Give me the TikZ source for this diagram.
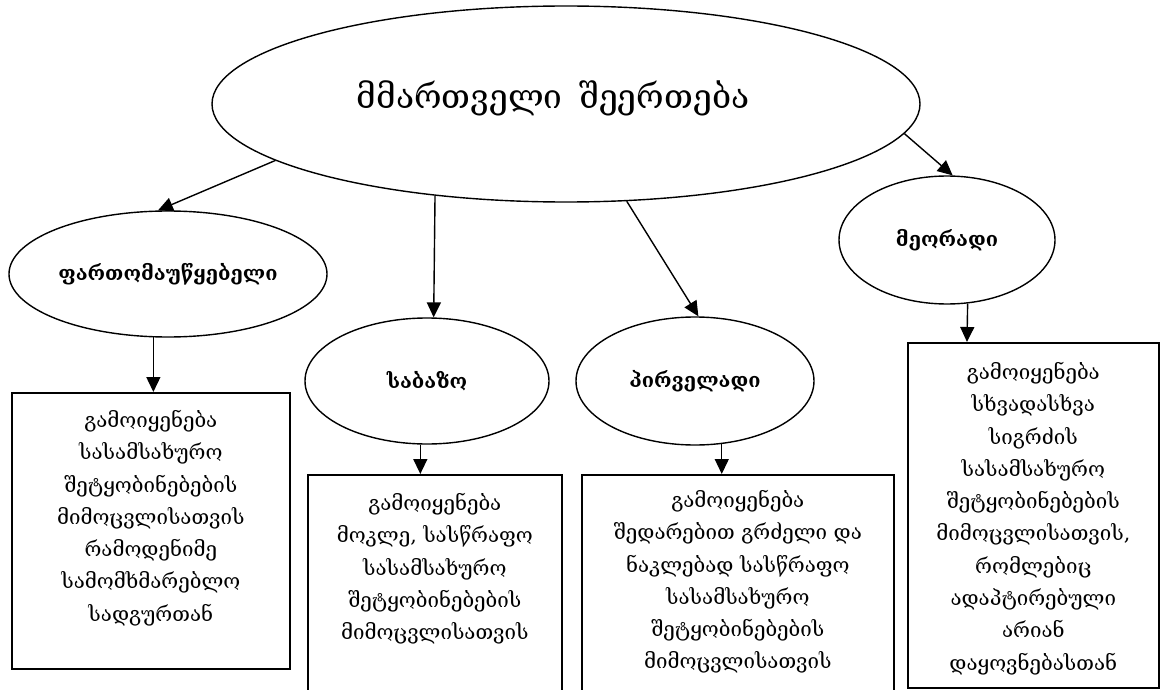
\documentclass[tikz,border=0pt]{standalone}
\usepackage{fontspec}
\setmainfont{DejaVu Serif}
\usetikzlibrary{shapes.geometric,arrows.meta}
\begin{document}
\begin{tikzpicture}[x=1pt,y=-1pt,
  oval/.style={draw,ellipse,line width=1.4pt,inner sep=0pt},
  panel/.style={draw,rectangle,line width=1.6pt,inner sep=0pt,anchor=north west},
  body/.style={align=center,font=\fontsize{20.5}{32.3}\selectfont,inner sep=0pt,anchor=north},
  tag/.style={font=\fontsize{20}{24}\selectfont\bfseries},
  arr/.style={line width=1.4pt,-{Triangle[length=15pt,width=14pt]}}]
\useasboundingbox (0,0) rectangle (1160,690);

% central ellipse and its title
\node[oval,minimum width=708pt,minimum height=196pt] (main) at (566,104) {};
\node[font=\fontsize{33.5}{40}\selectfont] (title) at (553,98) {მმართველი\hspace{0.5em}შეერთება};

% the four kinds of connection
\node[oval,tag,minimum width=318pt,minimum height=126pt] (wide) at (168,274) {ფართომაუწყებელი};
\node[oval,tag,minimum width=244pt,minimum height=126pt] (base) at (427,381) {საბაზო};
\node[oval,tag,minimum width=238pt,minimum height=128pt] (prim) at (695,381) {პირველადი};
\node[oval,tag,minimum width=216pt,minimum height=128pt] (sec) at (947,240) {მეორადი};

% description panels
\node[panel,minimum width=278pt,minimum height=276pt] (wbox) at (11,392) {};
\node[panel,minimum width=254pt,minimum height=240pt] (bbox) at (307,474) {};
\node[panel,minimum width=312pt,minimum height=240pt] (pbox) at (581,474) {};
\node[panel,minimum width=251pt,minimum height=345pt] (sbox) at (907,342) {};

\node[body] (wtext) at ([yshift=-18pt]wbox.north) {გამოიყენება\\სასამსახურო\\შეტყობინებების\\მიმოცვლისათვის\\რამოდენიმე\\სამომხმარებლო\\სადგურთან};
\node[body] (btext) at ([yshift=-19pt]bbox.north) {გამოიყენება\\მოკლე, სასწრაფო\\სასამსახურო\\შეტყობინებების\\მიმოცვლისათვის};
\node[body] (ptext) at ([yshift=-16pt]pbox.north) {გამოიყენება\\შედარებით გრძელი და\\ნაკლებად სასწრაფო\\სასამსახურო\\შეტყობინებების\\მიმოცვლისათვის};
\node[body] (stext) at ([yshift=-20pt]sbox.north) {გამოიყენება\\სხვადასხვა\\სიგრძის\\სასამსახურო\\შეტყობინებების\\მიმოცვლისათვის,\\რომლებიც\\ადაპტირებული\\არიან\\დაყოვნებასთან};

% connectors
\coordinate (stop) at ([xshift=60pt]sbox.north west);
\draw[arr] (main.191) -- (wide.99);
\draw[arr] (main.215) -- (base.84);
\draw[arr] (main.302) -- (prim.87);
\draw[arr] (main.355) -- (sec.85);
\draw[arr] (wide.257) -- (wide.257 |- wbox.north);
\draw[arr] (base.264) -- (base.264 |- bbox.north);
\draw[arr] (prim.293) -- (prim.293 |- pbox.north);
\draw[arr] (sec.288) -- (stop);
\end{tikzpicture}
\end{document}
